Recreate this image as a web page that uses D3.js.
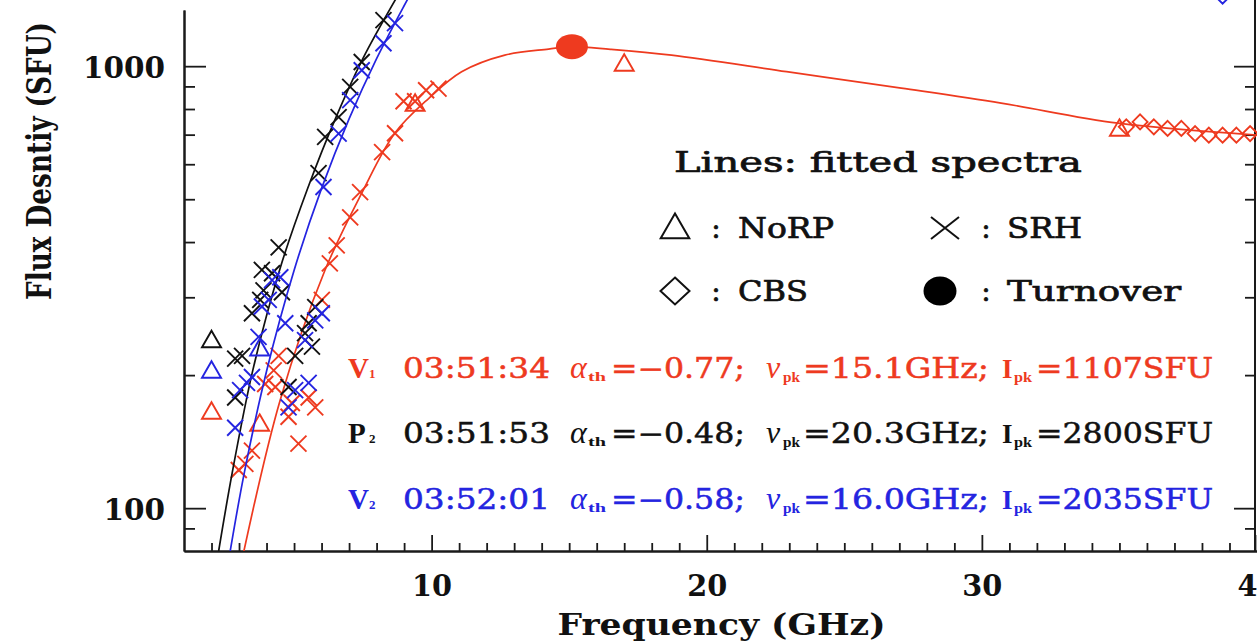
<!DOCTYPE html>
<html>
<head>
<meta charset="utf-8">
<title>Flux density spectra</title>
<script src="https://cdn.jsdelivr.net/npm/d3@7/dist/d3.min.js"></script>
<style>
  html, body { margin: 0; padding: 0; background: #fff; }
  svg { display: block; }
</style>
</head>
<body>
<svg id="chart" width="1257" height="643"></svg>
<script>
// ---------- axis extents and ticks ----------
const freqDomain = [1, 40];                 // GHz
const fluxDomain = [80, 1340];              // SFU (log)
const freqMajorTicks = [10, 20, 30, 40];
const freqMinorTicks = [2, 3, 4, 5, 6, 7, 8, 9, 11, 12, 13, 14, 15, 16, 17, 18, 19,
                        21, 22, 23, 24, 25, 26, 27, 28, 29, 31, 32, 33, 34, 35, 36, 37, 38, 39];
const fluxMajorTicks = [100, 1000];
const fluxMinorTicks = [90, 200, 300, 400, 500, 600, 700, 800, 900];

// ---------- fitted spectra [GHz, SFU] ----------
const fitV1 = [[3.17, 79.6], [4.5, 176], [6.12, 345], [7.46, 516], [8.66, 705], [9.9, 846],
               [11.09, 971], [12.66, 1059], [14.25, 1093], [15.1, 1107], [16.5, 1092],
               [18.72, 1059], [22.9, 972], [27.07, 892], [30.7, 825], [34.95, 743], [40.2, 697]];
const fitP2 = [[2.26, 80], [2.75, 120], [3.5, 205], [4.5, 350], [5.5, 530], [6.5, 760],
               [7.5, 1040], [8.7, 1420], [9.2, 1600]];
const fitV2 = [[2.68, 80], [3.2, 121], [4.0, 204], [5.0, 345], [6.0, 529], [7.0, 760],
               [8.0, 1040], [9.0, 1370], [9.5, 1560]];

// ---------- SRH measurements [GHz, SFU] ----------
const srhV1 = [[6.01, 296], [6.3, 358], [6.55, 393], [7.04, 455], [7.4, 519], [8.2, 639],
               [8.67, 705], [8.98, 833], [9.4, 833], [9.8, 882], [10.25, 890],
               [4.44, 221], [4.26, 205], [3.95, 191], [4.32, 188], [4.92, 173], [5.53, 178],
               [5.77, 169], [4.8, 161], [5.16, 140], [3.47, 135], [2.99, 122], [3.23, 126]];
const srhP2 = [[8.25, 1271], [7.46, 1022], [7.04, 898], [6.62, 767], [6.13, 692], [5.89, 573],
               [4.44, 389], [4.2, 340], [3.83, 346], [3.89, 311], [3.77, 296], [3.47, 276],
               [4.56, 308], [5.77, 285], [5.53, 262], [5.4, 249], [5.65, 232], [5.04, 221],
               [3.11, 221], [2.86, 218], [2.86, 178], [4.8, 188]];
const srhV2 = [[8.67, 1251], [8.25, 1127], [7.46, 979], [7.04, 838], [6.62, 704], [6.07, 533],
               [4.5, 333], [4.2, 328], [4.08, 296], [3.83, 286], [4.68, 262], [3.71, 244],
               [3.47, 198], [3.29, 192], [3.04, 185], [2.86, 152], [5.4, 240], [5.77, 266],
               [6.01, 276], [5.04, 185], [5.53, 192], [4.8, 169]];

// ---------- NoRP measurements [GHz, SFU] ----------
const norpV1 = [[2, 164], [3.75, 154], [9.4, 816], [17, 1005], [35, 716]];
const norpP2 = [[2, 238]];
const norpV2 = [[2, 203], [3.75, 228]];

// ---------- CBS measurements [GHz, SFU] ----------
const cbsV1 = [[35.25, 729], [35.75, 748], [36.25, 729], [36.75, 723], [37.25, 723],
               [37.75, 704], [38.25, 698], [38.75, 698], [39.25, 698], [39.75, 704]];
const cbsV2 = [[38.75, 1440]];

// ---------- spectrum parameters ----------
const specNames = ["V", "P", "V"];
const specSubs = ["1", "2", "2"];
const specTimes = ["03:51:34", "03:51:53", "03:52:01"];
const alphaThin = [-0.77, -0.48, -0.58];
const nuPeak = [15.1, 20.3, 16.0];          // GHz
const iPeak = [1107, 2800, 2035];           // SFU

// ---------- legend ----------
const legendTitle = "Lines: fitted spectra";
const legendLabels = ["NoRP", "SRH", "CBS", "Turnover"];

// ---------- drawing ----------
const RED = "#ee3a1f", BLACK = "#111111", BLUE = "#2424e0";
const colors = [RED, BLACK, BLUE];
const SLAB = "'DejaVu Serif', 'Liberation Serif', serif";
const SERIF = "'Liberation Serif', 'DejaVu Serif', serif";

const svg = d3.select("#chart");
svg.append("rect").attr("width", 1257).attr("height", 643).attr("fill", "#fff");

const x = d3.scaleLinear().domain(freqDomain).range([184, 1257]);
const y = d3.scaleLog().domain(fluxDomain).range([551, 10]);

// clip so spectra stop at the frame
svg.append("defs").append("clipPath").attr("id", "plotClip")
  .append("rect").attr("x", x(freqDomain[0])).attr("y", -60)
  .attr("width", 1257 - x(freqDomain[0])).attr("height", y(fluxDomain[0]) + 60);

const axisColor = "#1a1a1a";
function styleAxis(g) {
  g.select(".domain").attr("stroke", axisColor).attr("stroke-width", 2);
  g.selectAll(".tick line").attr("stroke", axisColor).attr("stroke-width", 1.8);
  g.selectAll("text").attr("fill", "#111");
}

// bottom axis
const gxMinor = svg.append("g").attr("transform", `translate(0,${y(fluxDomain[0])})`)
  .call(d3.axisBottom(x).tickValues(freqMinorTicks).tickSize(-8).tickSizeOuter(0).tickFormat(""));
styleAxis(gxMinor);
const gx = svg.append("g").attr("transform", `translate(0,${y(fluxDomain[0])})`)
  .call(d3.axisBottom(x).tickValues(freqMajorTicks).tickSize(-16).tickSizeOuter(0)
        .tickPadding(24).tickFormat(d3.format("d")));
styleAxis(gx);
gx.selectAll("text").attr("font-family", SLAB).attr("font-size", 30).attr("font-weight", "bold")
  .attr("textLength", 40).attr("lengthAdjust", "spacingAndGlyphs");

// left axis
const gyMinor = svg.append("g").attr("transform", `translate(${x(freqDomain[0])},0)`)
  .call(d3.axisLeft(y).tickValues(fluxMinorTicks).tickSize(-11).tickSizeOuter(0).tickFormat(""));
styleAxis(gyMinor);
const gy = svg.append("g").attr("transform", `translate(${x(freqDomain[0])},0)`)
  .call(d3.axisLeft(y).tickValues(fluxMajorTicks).tickSize(-22).tickSizeOuter(0)
        .tickPadding(19).tickFormat(d3.format("d")));
styleAxis(gy);
gy.selectAll("text").attr("font-family", SLAB).attr("font-size", 30).attr("font-weight", "bold")
  .attr("dy", "0.38em")
  .attr("textLength", d => String(d).length * 20.5).attr("lengthAdjust", "spacingAndGlyphs");

// right axis
const rightX = 1255;
const gr = svg.append("g").attr("transform", `translate(${rightX},0)`)
  .call(d3.axisRight(y).tickValues(fluxMajorTicks).tickSize(-21).tickSizeOuter(0).tickFormat(""));
styleAxis(gr);
const grMinor = svg.append("g").attr("transform", `translate(${rightX},0)`)
  .call(d3.axisRight(y).tickValues(fluxMinorTicks).tickSize(-10).tickSizeOuter(0).tickFormat(""));
styleAxis(grMinor);
grMinor.select(".domain").remove();
gr.select(".domain").remove();
svg.append("line").attr("x1", rightX).attr("x2", rightX).attr("y1", 0).attr("y2", y(fluxDomain[0]))
  .attr("stroke", axisColor).attr("stroke-width", 2);

// axis titles
svg.append("text")
  .attr("x", (x(freqDomain[0]) + 1257) / 2 + 1).attr("y", 635)
  .attr("text-anchor", "middle")
  .attr("font-family", SLAB).attr("font-size", 30).attr("font-weight", "bold").attr("fill", "#111")
  .attr("textLength", 328).attr("lengthAdjust", "spacingAndGlyphs")
  .text("Frequency (GHz)");
svg.append("text")
  .attr("transform", "translate(51,161) rotate(-90)")
  .attr("text-anchor", "middle")
  .attr("font-family", SLAB).attr("font-size", 33).attr("font-weight", "bold").attr("fill", "#111")
  .attr("textLength", 278).attr("lengthAdjust", "spacingAndGlyphs")
  .text("Flux Desntiy (SFU)");

// marker shapes
const xMark = (hw, hh) => `M${-hw},${-hh}L${hw},${hh}M${-hw},${hh}L${hw},${-hh}`;
const triMark = r => `M0,${-r}L${r * 0.866},${r * 0.5}L${-r * 0.866},${r * 0.5}Z`;
const diaMark = (hw, hh) => `M0,${-hh}L${hw},0L0,${hh}L${-hw},0Z`;

const plot = svg.append("g").attr("clip-path", "url(#plotClip)");
const line = d3.line().x(d => x(d[0])).y(d => y(d[1])).curve(d3.curveCatmullRom.alpha(0.5));

const spectra = [
  { fit: fitV1, srh: srhV1, norp: norpV1, cbs: cbsV1, color: RED },
  { fit: fitP2, srh: srhP2, norp: norpP2, cbs: [], color: BLACK },
  { fit: fitV2, srh: srhV2, norp: norpV2, cbs: cbsV2, color: BLUE }
];

spectra.forEach((s, i) => {
  const g = plot.append("g");
  g.append("path").datum(s.fit).attr("d", line)
    .attr("fill", "none").attr("stroke", s.color).attr("stroke-width", 1.7);
  g.selectAll("path.srh").data(s.srh).join("path").attr("class", "srh")
    .attr("transform", d => `translate(${x(d[0])},${y(d[1])})`)
    .attr("d", xMark(8, 8)).attr("fill", "none").attr("stroke", s.color).attr("stroke-width", 1.9);
  g.selectAll("path.norp").data(s.norp).join("path").attr("class", "norp")
    .attr("transform", d => `translate(${x(d[0])},${y(d[1])})`)
    .attr("d", triMark(11)).attr("fill", "none").attr("stroke", s.color).attr("stroke-width", 1.9);
  g.selectAll("path.cbs").data(s.cbs).join("path").attr("class", "cbs")
    .attr("transform", d => `translate(${x(d[0])},${y(d[1])})`)
    .attr("d", diaMark(7.5, 7.5)).attr("fill", "none").attr("stroke", s.color).attr("stroke-width", 1.9);
  // turnover point from the fitted peak parameters
  g.append("ellipse").attr("cx", x(nuPeak[i])).attr("cy", y(iPeak[i]))
    .attr("rx", 16).attr("ry", 12.5).attr("fill", s.color);
});

// legend
const lg = svg.append("g").attr("font-family", SLAB).attr("fill", "#111")
  .attr("stroke", "#111").attr("stroke-width", 0.7);
lg.append("text").attr("x", 674).attr("y", 172).attr("font-size", 28)
  .attr("textLength", 408).attr("lengthAdjust", "spacingAndGlyphs").text(legendTitle);
const legRows = [
  { sym: "tri", cx: 675, cy: 228, colon: 716, tx: 738, ty: 238, w: 96, label: legendLabels[0] },
  { sym: "x", cx: 945, cy: 228, colon: 986, tx: 1007, ty: 238, w: 75, label: legendLabels[1] },
  { sym: "dia", cx: 675, cy: 291, colon: 716, tx: 738, ty: 301, w: 70, label: legendLabels[2] },
  { sym: "dot", cx: 940, cy: 291, colon: 986, tx: 1007, ty: 301, w: 174, label: legendLabels[3] }
];
legRows.forEach(r => {
  if (r.sym === "tri") {
    lg.append("path").attr("transform", `translate(${r.cx},${r.cy + 2})`).attr("d", triMark(16.5))
      .attr("fill", "none").attr("stroke", "#111").attr("stroke-width", 2);
  } else if (r.sym === "x") {
    lg.append("path").attr("transform", `translate(${r.cx},${r.cy})`).attr("d", xMark(14, 11))
      .attr("fill", "none").attr("stroke", "#111").attr("stroke-width", 2);
  } else if (r.sym === "dia") {
    lg.append("path").attr("transform", `translate(${r.cx},${r.cy})`).attr("d", diaMark(14.5, 13.5))
      .attr("fill", "none").attr("stroke", "#111").attr("stroke-width", 2);
  } else {
    lg.append("ellipse").attr("cx", r.cx).attr("cy", r.cy).attr("rx", 16.5).attr("ry", 14.5)
      .attr("fill", "#000").attr("stroke", "none");
  }
  lg.append("text").attr("x", r.colon).attr("y", r.ty).attr("font-size", 28)
    .attr("text-anchor", "middle").text(":");
  lg.append("text").attr("x", r.tx).attr("y", r.ty).attr("font-size", 28)
    .attr("textLength", r.w).attr("lengthAdjust", "spacingAndGlyphs").text(r.label);
});

// spectrum parameter annotations
const fmtAlpha = v => (v < 0 ? "\u2212" : "") + Math.abs(v).toFixed(2);
const annBaselines = [378, 443, 509];
specNames.forEach((name, i) => {
  const bl = annBaselines[i];
  const g = svg.append("g").attr("fill", colors[i]);
  const thick = sel => sel.attr("stroke", colors[i]).attr("stroke-width", 0.5);
  g.append("text").attr("x", 348).attr("y", bl).attr("font-family", SERIF)
    .attr("font-size", 29).attr("font-weight", "bold").text(name);
  g.append("text").attr("x", 369).attr("y", bl).attr("font-family", SERIF)
    .attr("font-size", 13).attr("font-weight", "bold").text(specSubs[i]);
  g.append("text").attr("x", 403).attr("y", bl).attr("font-family", SLAB).attr("font-size", 27)
    .attr("textLength", 147).attr("lengthAdjust", "spacingAndGlyphs").text(specTimes[i]).call(thick);
  g.append("text").attr("x", 570).attr("y", bl).attr("font-family", SERIF).attr("font-style", "italic")
    .attr("font-size", 32).text("\u03b1");
  g.append("text").attr("x", 588).attr("y", bl + 3).attr("font-family", SERIF).attr("font-weight", "bold")
    .attr("font-size", 13).attr("textLength", 18).attr("lengthAdjust", "spacingAndGlyphs").text("th");
  g.append("text").attr("x", 611).attr("y", bl).attr("font-family", SLAB).attr("font-size", 27)
    .attr("textLength", 134).attr("lengthAdjust", "spacingAndGlyphs")
    .text("=" + fmtAlpha(alphaThin[i]) + ";").call(thick);
  g.append("text").attr("x", 766).attr("y", bl).attr("font-family", SERIF).attr("font-style", "italic")
    .attr("font-size", 32).text("\u03bd");
  g.append("text").attr("x", 783).attr("y", bl + 4).attr("font-family", SERIF).attr("font-weight", "bold")
    .attr("font-size", 14).attr("textLength", 17).attr("lengthAdjust", "spacingAndGlyphs").text("pk");
  g.append("text").attr("x", 803).attr("y", bl).attr("font-family", SLAB).attr("font-size", 27)
    .attr("textLength", 186).attr("lengthAdjust", "spacingAndGlyphs")
    .text("=" + nuPeak[i].toFixed(1) + "GHz;").call(thick);
  g.append("text").attr("x", 1002).attr("y", bl).attr("font-family", SERIF).attr("font-weight", "bold")
    .attr("font-size", 27).text("I");
  g.append("text").attr("x", 1014).attr("y", bl + 4).attr("font-family", SERIF).attr("font-weight", "bold")
    .attr("font-size", 14).attr("textLength", 18).attr("lengthAdjust", "spacingAndGlyphs").text("pk");
  g.append("text").attr("x", 1036).attr("y", bl).attr("font-family", SLAB).attr("font-size", 27)
    .attr("textLength", 177).attr("lengthAdjust", "spacingAndGlyphs")
    .text("=" + iPeak[i] + "SFU").call(thick);
});
</script>
</body>
</html>
